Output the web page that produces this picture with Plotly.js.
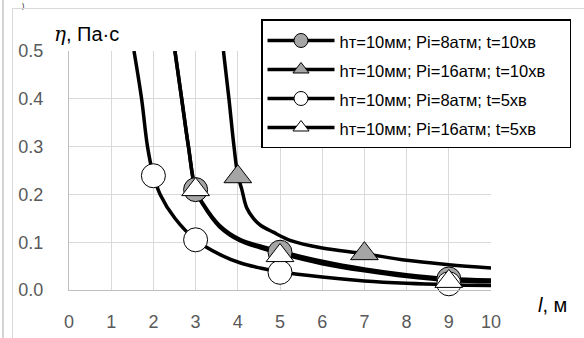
<!DOCTYPE html>
<html>
<head>
<meta charset="utf-8">
<script src="https://cdn.plot.ly/plotly-3.0.1.min.js"></script>
<style>
html,body{margin:0;padding:0;background:#fff;}
#wrap{position:relative;width:584px;height:338px;overflow:hidden;}
#chart{position:absolute;left:0;top:0;width:584px;height:338px;}
.ln{position:absolute;pointer-events:none;}
</style>
</head>
<body>
<div id="wrap">
<div id="chart"></div>
<div class="ln" style="left:2px;top:0;width:2px;height:338px;background:#d4d4d4;"></div>
<div class="ln" style="left:12px;top:8px;width:572px;height:330px;border-left:1px solid #d9d9d9;border-top:1px solid #d9d9d9;"></div>
</div>
<script>
// ---- data ----
const seriesNames = [
  "hт=10мм; Pi=8атм; t=10хв",
  "hт=10мм; Pi=16атм; t=10хв",
  "hт=10мм; Pi=8атм; t=5хв",
  "hт=10мм; Pi=16атм; t=5хв"
];
// measured points (l, m ; eta, Pa·s)
const ptsGrayCircleX = [3, 5, 9];
const ptsGrayCircleY = [0.21, 0.079, 0.023];
const ptsGrayTriX = [4, 7];
const ptsGrayTriY = [0.237, 0.076];
const ptsWhiteCircleX = [2, 3, 5, 9];
const ptsWhiteCircleY = [0.239, 0.105, 0.037, 0.013];
const ptsWhiteTriX = [3, 5, 9];
const ptsWhiteTriY = [0.21, 0.072, 0.018];

// curves
const curveGrayCircleX = [2.51, 2.67, 2.83, 3.0, 3.18, 3.57, 4.05, 4.53, 5.0, 6.0, 7.0, 8.0, 9.0, 10.0];
const curveGrayCircleY = [0.5, 0.4, 0.3, 0.21, 0.18, 0.135, 0.106, 0.092, 0.081, 0.06, 0.044, 0.032, 0.024, 0.021];
const curveGrayTriX = [3.66, 3.79, 3.91, 4.0, 4.09, 4.21, 4.37, 4.53, 4.84, 5.24, 6.0, 7.0, 8.0, 9.0, 10.0];
const curveGrayTriY = [0.5, 0.4, 0.3, 0.24, 0.212, 0.172, 0.15, 0.136, 0.121, 0.104, 0.088, 0.076, 0.062, 0.053, 0.046];
const curveWhiteCircleX = [1.54, 1.72, 1.86, 2.0, 2.16, 2.51, 3.0, 3.58, 4.05, 4.53, 5.0, 6.0, 7.0, 8.0, 9.0, 10.0];
const curveWhiteCircleY = [0.5, 0.4, 0.3, 0.24, 0.2, 0.15, 0.105, 0.074, 0.057, 0.046, 0.038, 0.027, 0.019, 0.014, 0.011, 0.0094];
const curveWhiteTriX = [2.51, 2.67, 2.83, 3.0, 3.18, 3.57, 4.05, 4.53, 5.0, 6.0, 7.0, 8.0, 9.0, 10.0];
const curveWhiteTriY = [0.5, 0.4, 0.3, 0.21, 0.178, 0.132, 0.103, 0.088, 0.076, 0.055, 0.04, 0.028, 0.02, 0.017];

const xTickVals = [0,1,2,3,4,5,6,7,8,9,10];
const yTickVals = [0, 0.1, 0.2, 0.3, 0.4, 0.5];
const yTickText = ["0.0","0.1","0.2","0.3","0.4","0.5"];

// ---- styles ----
const GRAY = "#a5a5a5";
const lineStyle = {color: "#000", width: 3.5, shape: "spline", smoothing: 1};
const symbols = ["circle", "triangle-up", "circle", "triangle-up"];
const fills = [GRAY, GRAY, "#fff", "#fff"];
const sizes = [24, 24, 24, 24];

const curves = [
  [curveGrayCircleX, curveGrayCircleY],
  [curveGrayTriX, curveGrayTriY],
  [curveWhiteCircleX, curveWhiteCircleY],
  [curveWhiteTriX, curveWhiteTriY]
];
const pts = [
  [ptsGrayCircleX, ptsGrayCircleY],
  [ptsGrayTriX, ptsGrayTriY],
  [ptsWhiteCircleX, ptsWhiteCircleY],
  [ptsWhiteTriX, ptsWhiteTriY]
];

const traces = [];
curves.forEach((c, i) => traces.push({
  x: c[0], y: c[1], type: "scatter", mode: "lines",
  line: lineStyle, showlegend: false, hoverinfo: "skip"
}));
pts.forEach((p, i) => traces.push({
  x: p[0], y: p[1], type: "scatter", mode: "markers",
  marker: {symbol: symbols[i], size: sizes[i], color: fills[i], line: {color: "#000", width: 1}},
  showlegend: false, cliponaxis: false
}));
const PAD = "\u00A0\u00A0\u00A0\u00A0";
seriesNames.forEach((n, i) => traces.push({
  x: [null], y: [null], type: "scatter", mode: "lines+markers",
  name: '<span style="font-size:16.5px">' + n + PAD + '</span>',
  line: {color: "#000", width: 3.5},
  marker: {symbol: symbols[i], size: 14, color: fills[i], line: {color: "#000", width: 1}}
}));

const F = "Liberation Sans, Arial, sans-serif";
const layout = {
  width: 584, height: 338,
  margin: {l: 69, r: 93, t: 51, b: 48, autoexpand: false},
  paper_bgcolor: "rgba(0,0,0,0)", plot_bgcolor: "#fff",
  font: {family: F, color: "#595959"},
  showlegend: true,
  legend: {
    x: 0.455, y: 1.1318, xanchor: "left", yanchor: "top",
    bgcolor: "#fff", bordercolor: "#000", borderwidth: 1.5,
    font: {family: F, size: 20, color: "#000"},
    traceorder: "normal", itemwidth: 67
  },
  xaxis: {
    range: [0, 10], tickvals: xTickVals, ticks: "", ticklabelstandoff: 15,
    showgrid: true, gridcolor: "#d9d9d9", gridwidth: 1,
    zeroline: false, showline: true, linecolor: "#bfbfbf", linewidth: 1,
    tickfont: {size: 18, color: "#595959"}, fixedrange: true
  },
  yaxis: {
    range: [0, 0.5], tickvals: yTickVals, ticktext: yTickText, ticks: "", ticklabelstandoff: 21,
    showgrid: true, gridcolor: "#d9d9d9", gridwidth: 1,
    zeroline: false, showline: true, linecolor: "#bfbfbf", linewidth: 1,
    tickfont: {size: 18, color: "#595959"}, fixedrange: true
  },
  annotations: [
    {xref: "paper", yref: "paper", x: -0.040, y: 1.073, xanchor: "left", yanchor: "middle",
     text: "<span style=\"font-family:'DejaVu Serif';font-style:italic\">η</span>, Па·с",
     showarrow: false, font: {family: F, size: 20, color: "#000"}},
    {xref: "paper", yref: "paper", x: 1.1446, y: -0.0607, xanchor: "center", yanchor: "middle",
     text: "<i>l</i>, м", showarrow: false, font: {family: F, size: 20, color: "#000"}},
    {xref: "paper", yref: "paper", x: -0.109, y: 1.2125, xanchor: "center", yanchor: "top",
     text: ")", showarrow: false, font: {family: F, size: 7, color: "#000"}}
  ]
};
Plotly.newPlot("chart", traces, layout, {displayModeBar: false, staticPlot: true});
</script>
</body>
</html>
